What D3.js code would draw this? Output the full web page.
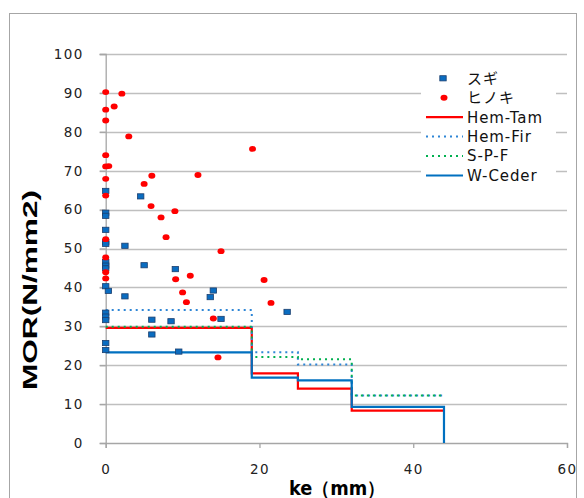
<!DOCTYPE html>
<html>
<head>
<meta charset="utf-8">
<script src="https://cdn.jsdelivr.net/npm/d3@7"></script>
<style>
  html, body { margin: 0; padding: 0; background: #fff; }
  svg { display: block; }
</style>
</head>
<body>
<div id="chart"></div>
<script>
// ---- data ----
const keBreaks = [0, 19, 25, 32, 44];
const hemTam = [29.6, 17.9, 14.0, 8.3];
const hemFir = [34.2, 23.3, 20.2, 12.2];
const spf    = [29.9, 22.1, 21.5, 12.2];
const wCeder = [23.3, 16.8, 16.1, 9.3];

const sugiX = [0, 4.55, 0, 0, 0, 0, 0, 2.5, 0, 0, 0, 5.0, 9.06, 0, 0.35, 2.5, 14.0, 13.6, 0, 0, 0, 6.0, 8.5, 15.0, 23.6, 6.0, 0, 0, 9.5];
const sugiY = [64.8, 63.4, 59.2, 58.4, 54.8, 51.7, 51.2, 50.7, 46.5, 45.6, 44.9, 45.7, 44.7, 40.3, 39.1, 37.7, 39.2, 37.5, 33.5, 32.5, 31.6, 31.7, 31.3, 31.9, 33.7, 27.9, 25.7, 23.9, 23.5];

const hinokiX = [0, 2.1, 1.1, 0, 0, 3.0, 19.1, 0, 0, 0.4, 6.0, 12.0, 0, 5.0, 0, 5.9, 9.0, 7.2, 0, 7.85, 15.0, 0, 0, 0, 9.1, 11.0, 20.6, 10.0, 10.5, 21.5, 14.0, 14.6];
const hinokiY = [90.2, 89.8, 86.5, 85.7, 82.9, 78.8, 75.6, 74.0, 71.1, 71.2, 68.7, 68.9, 67.9, 66.6, 63.6, 60.9, 59.6, 58.0, 52.4, 52.9, 49.3, 47.7, 43.9, 42.3, 42.1, 43.0, 41.9, 38.7, 36.2, 36.0, 32.0, 22.0];

const xTicks = [0, 20, 40, 60];
const yTicks = [0, 10, 20, 30, 40, 50, 60, 70, 80, 90, 100];
const legendLabels = ["スギ", "ヒノキ", "Hem-Tam", "Hem-Fir", "S-P-F", "W-Ceder"];

// ---- drawing ----
const W = 584, H = 498;
const svg = d3.select("#chart").append("svg").attr("width", W).attr("height", H);

// outer chart border
svg.append("rect").attr("x", 9.5).attr("y", 13.5).attr("width", 567).attr("height", 500)
  .attr("fill", "#fff").attr("stroke", "#a6a6a6").attr("stroke-width", 1);

const x = d3.scaleLinear().domain([0, 60]).range([105.7, 567]);
const y = d3.scaleLinear().domain([0, 100]).range([443, 54]);

// gridlines
svg.append("g").selectAll("line").data(yTicks.filter(d => d > 0)).join("line")
  .attr("x1", x(0) - 6).attr("x2", x(60))
  .attr("y1", d => Math.round(y(d)) + 0.5).attr("y2", d => Math.round(y(d)) + 0.5)
  .attr("stroke", "#bfbfbf").attr("stroke-width", 1.3);

// axes
const yAxis = d3.axisLeft(y).tickValues(yTicks).tickSize(6).tickPadding(16);
const gy = svg.append("g").attr("transform", `translate(${x(0)},0)`).call(yAxis);
const xAxis = d3.axisBottom(x).tickValues(xTicks).tickSize(5).tickPadding(16);
const gx = svg.append("g").attr("transform", `translate(0,${y(0)})`).call(xAxis);
[gx, gy].forEach(g => {
  g.select(".domain").attr("stroke", "#a6a6a6").attr("stroke-width", 1.3);
  g.selectAll(".tick line").attr("stroke", "#a6a6a6").attr("stroke-width", 1.3);
  g.selectAll(".tick text").attr("fill", "#222")
    .style("font-family", "DejaVu Sans").style("font-size", "13.5px").style("letter-spacing", "1.4px");
});

// step lines
const line = d3.line().x(d => x(d[0])).y(d => y(d[1])).curve(d3.curveStepAfter);
function stepPts(vals, dropToZero) {
  const pts = keBreaks.map((k, i) => [k, vals[Math.min(i, vals.length - 1)]]);
  if (dropToZero) pts.push([keBreaks[keBreaks.length - 1], 0]);
  return pts;
}
const series = [
  { name: "Hem-Tam", vals: hemTam, color: "#ff0000", dash: null, drop: false },
  { name: "Hem-Fir", vals: hemFir, color: "#2e86d6", dash: "2,4", drop: false },
  { name: "S-P-F",   vals: spf,    color: "#00b050", dash: "2,4", drop: false },
  { name: "W-Ceder", vals: wCeder, color: "#0070c0", dash: null, drop: true }
];
series.forEach(s => {
  svg.append("path").attr("d", line(stepPts(s.vals, s.drop)))
    .attr("fill", "none").attr("stroke", s.color).attr("stroke-width", s.dash ? 2 : 2.2)
    .attr("stroke-dasharray", s.dash);
});

// scatter points
const sugi = sugiX.map((v, i) => [v, sugiY[i]]);
const hinoki = hinokiX.map((v, i) => [v, hinokiY[i]]);
svg.append("g").selectAll("rect").data(sugi).join("rect")
  .attr("x", d => x(d[0]) - 3.2).attr("y", d => y(d[1]) - 2.6)
  .attr("width", 6.4).attr("height", 5.2)
  .attr("fill", "#0a6cc0").attr("stroke", "#1c3f6e").attr("stroke-width", 0.8);
svg.append("g").selectAll("ellipse").data(hinoki).join("ellipse")
  .attr("cx", d => x(d[0])).attr("cy", d => y(d[1]))
  .attr("rx", 3.5).attr("ry", 2.9).attr("fill", "#ff0000");

// axis titles
svg.append("text").attr("x", 337).attr("y", 495).attr("text-anchor", "middle")
  .style("font-family", "DejaVu Sans").style("font-weight", "bold").style("font-size", "19px")
  .attr("textLength", 96).attr("lengthAdjust", "spacingAndGlyphs")
  .text("ke（mm）");
svg.append("text").attr("transform", "translate(37,290) rotate(-90)").attr("text-anchor", "middle")
  .style("font-family", "Liberation Sans").style("font-weight", "bold").style("font-size", "21px")
  .attr("textLength", 200).attr("lengthAdjust", "spacingAndGlyphs")
  .text("MOR(N/mm2)");

// legend
const lg = svg.append("g");
lg.append("rect").attr("x", 421).attr("y", 66).attr("width", 135).attr("height", 120).attr("fill", "#fff");
const rowY = d3.scalePoint().domain(legendLabels).range([78.3, 175.5]);
legendLabels.forEach((lab, i) => {
  const yy = rowY(lab);
  if (i === 0) {
    lg.append("rect").attr("x", 443 - 3.2).attr("y", yy - 2.6).attr("width", 6.4).attr("height", 5.2)
      .attr("fill", "#0a6cc0").attr("stroke", "#1c3f6e").attr("stroke-width", 0.8);
  } else if (i === 1) {
    lg.append("ellipse").attr("cx", 444).attr("cy", yy).attr("rx", 3.5).attr("ry", 2.9).attr("fill", "#ff0000");
  } else {
    const s = series[i - 2];
    lg.append("line").attr("x1", 426).attr("x2", 463).attr("y1", yy).attr("y2", yy)
      .attr("stroke", s.color).attr("stroke-width", s.dash ? 2 : 2.2).attr("stroke-dasharray", s.dash);
  }
  lg.append("text").attr("x", 467).attr("y", yy).attr("dy", "0.36em")
    .attr("fill", "#111")
    .style("font-family", i < 2 ? "Noto Sans CJK JP" : "DejaVu Sans")
    .style("font-size", "15px").style("letter-spacing", i < 2 ? "1px" : "0.9px")
    .text(lab);
});
</script>
</body>
</html>
